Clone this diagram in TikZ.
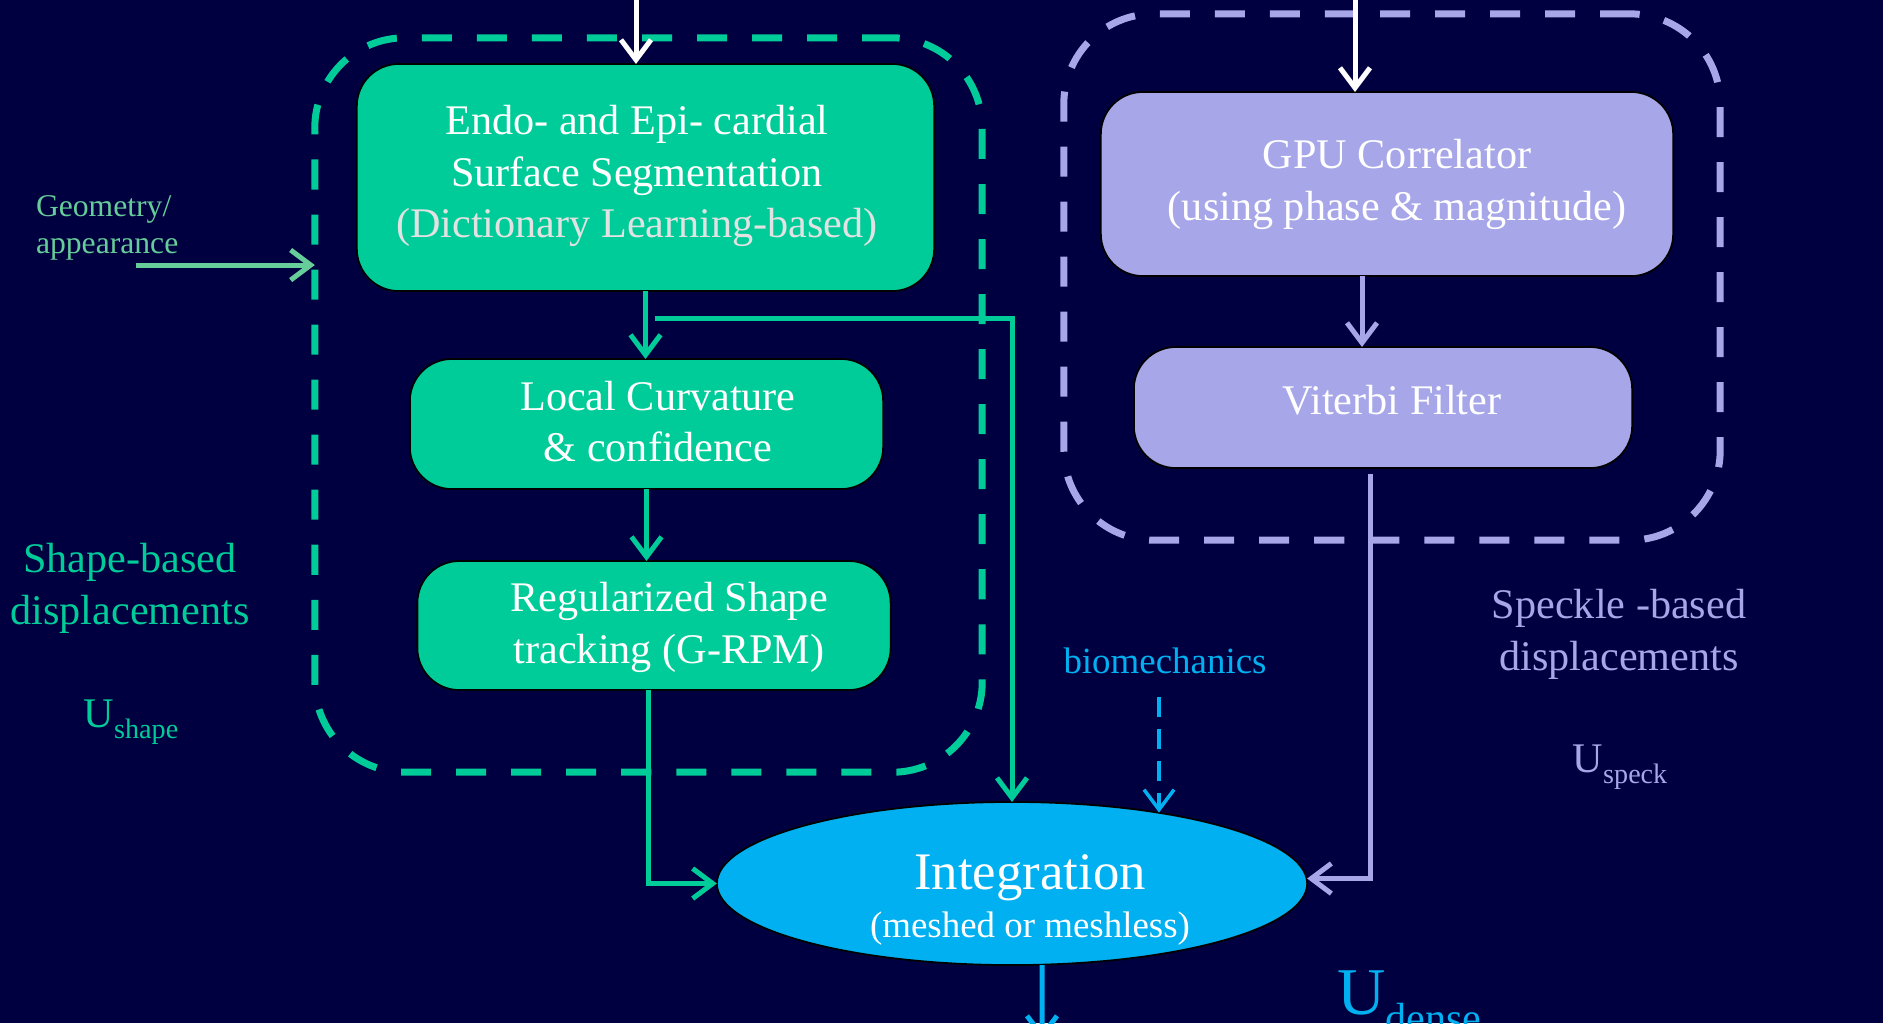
\documentclass[tikz,border=0pt]{standalone}
\usepackage{fontspec}
\setmainfont{Liberation Serif}
\usetikzlibrary{arrows.meta,shapes.geometric}
\definecolor{bgnavy}{RGB}{0,0,64}
\definecolor{mint}{RGB}{0,204,153}
\definecolor{lilac}{RGB}{166,166,232}
\definecolor{sky}{RGB}{0,176,240}
\definecolor{sage}{RGB}{102,204,153}
\definecolor{paper}{RGB}{226,226,226}

\begin{document}
\begin{tikzpicture}[x=0.01cm,y=-0.01cm,
  every node/.style={inner sep=0pt,outer sep=0pt},
  procbox/.style={draw=black,line width=0.5pt,rounded corners=0.42cm},
  mintbox/.style={procbox,fill=mint},
  lilacbox/.style={procbox,fill=lilac},
  group/.style={line width=0.07cm,rounded corners=0.9cm,dash pattern=on 0.3cm off 0.25cm},
  boxtext/.style={text=white,align=center,font=\fontsize{12}{14.7}\selectfont},
  sidetext/.style={align=center,font=\fontsize{12}{14.7}\selectfont},
  barb/.style={-{Straight Barb[length=0.2cm,width=0.3cm]}},
  link/.style={barb,line width=0.05cm},
]
\useasboundingbox (0,0) rectangle (1883,1023);
\clip (0,0) rectangle (1883,1023);
\fill[bgnavy] (0,0) rectangle (1883,1023);

% dashed groups
\node[group,draw=mint,minimum width=6.67cm,minimum height=7.34cm] (shapegrp) at (648.5,405) {};
\node[group,draw=lilac,minimum width=6.56cm,minimum height=5.26cm] (specgrp) at (1392,277) {};

% shape-based branch
\node[mintbox,minimum width=5.77cm,minimum height=2.27cm] (seg) at (645.5,177.5) {};
\node[boxtext] (segtext) at (637,176) {Endo- and Epi- cardial\\Surface Segmentation\\\textcolor{paper}{(Dictionary Learning-based)}};
\node[mintbox,minimum width=4.73cm,minimum height=1.30cm] (curv) at (646.5,424) {};
\node[boxtext] (curvtext) at (658,421.5) {Local Curvature\\\& confidence};
\node[mintbox,minimum width=4.73cm,minimum height=1.29cm] (track) at (654,625.5) {};
\node[boxtext] (tracktext) at (669,627.5) {Regularized Shape\\tracking (G-RPM)};

% speckle-based branch
\node[lilacbox,minimum width=5.72cm,minimum height=1.84cm] (gpu) at (1387,184) {};
\node[boxtext] (gputext) at (1397,184.5) {GPU Correlator\\(using phase \& magnitude)};
\node[lilacbox,minimum width=4.98cm,minimum height=1.21cm] (vit) at (1383,407.5) {};
\node[boxtext] (vittext) at (1392,400) {Viterbi Filter};

% integration
\node[ellipse,draw=black,line width=0.5pt,fill=sky,minimum width=5.90cm,minimum height=1.63cm] (integ) at (1012,883.5) {};
\node[text=white,anchor=base,font=\fontsize{15}{18}\selectfont] (integtitle) at (1030,889) {Integration};
\node[text=white,anchor=base,font=\fontsize{10.5}{12.6}\selectfont] (integsub) at (1030,937) {(meshed or meshless)};

% side labels
\node[text=sage,anchor=west,align=left,font=\fontsize{9}{10.6}\selectfont] (geo) at (36,228) {Geometry/\\appearance};
\node[sidetext,text=mint] (shapelbl) at (130,588) {Shape-based\\displacements};
\node[text=mint,font=\fontsize{12}{14}\selectfont] (ushape) at (131,722) {U\raisebox{-0.55ex}{\fontsize{8}{8}\selectfont shape}};
\node[sidetext,text=lilac] (specklbl) at (1619,634) {Speckle -based\\displacements};
\node[text=lilac,font=\fontsize{12}{14}\selectfont] (uspeck) at (1620,767) {U\raisebox{-0.55ex}{\fontsize{8}{8}\selectfont speck}};
\node[text=sky,font=\fontsize{10.5}{12.6}\selectfont] (bio) at (1165,661) {biomechanics};
\node[text=sky,anchor=base west,font=\fontsize{19}{22}\selectfont] (udense) at (1337,1014) {U\raisebox{-0.6ex}{\fontsize{12}{12}\selectfont dense}};

% free ends
\coordinate (inA) at (636,-10);
\coordinate (inB) at (1355,-10);
\coordinate (br) at (655,318);
\coordinate (geoA) at (136,265);
\coordinate (biotop) at (1159,697);
\coordinate (outC) at (1042,1040);

% connectors
\draw[link,white] (inA) -- (inA |- seg.north);
\draw[link,white] (inB) -- (inB |- gpu.north);
\draw[link,mint] (seg.south) -- (seg.south |- curv.north);
\draw[link,mint] (br) -| (integ.north);
\draw[link,mint] (curv.south) -- (curv.south |- track.north);
\draw[link,mint] ([xshift=-0.06cm]track.south) |- (integ.west);
\draw[link,sage] (geoA) -- (geoA -| shapegrp.west);
\draw[link,lilac] ([xshift=-0.25cm]gpu.south) -- ([xshift=-0.25cm]gpu.south |- vit.north);
\draw[link,lilac] ([xshift=-0.13cm,yshift=-0.06cm]vit.south) |- ([yshift=0.05cm]integ.east);
\draw[barb,sky,line width=0.035cm,dash pattern=on 0.2cm off 0.12cm] (biotop) -- (biotop |- integ.26);
\draw[link,sky] ([xshift=0.3cm]integ.south) -- (outC);
\end{tikzpicture}
\end{document}
